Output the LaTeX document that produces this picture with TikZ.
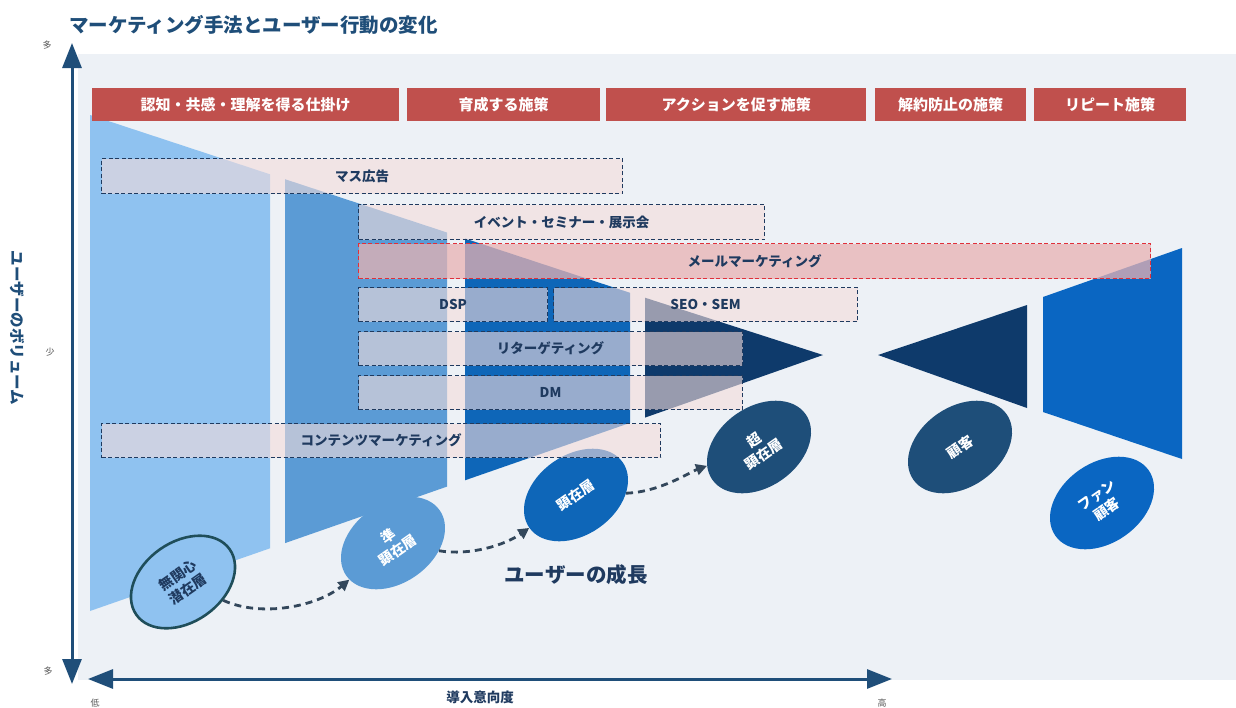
\documentclass[tikz,border=0pt]{standalone}
\usepackage{fontspec}
\setmainfont{Noto Sans CJK JP}
\usetikzlibrary{arrows.meta,shapes.geometric}
\definecolor{panel}{RGB}{237,241,246}
\definecolor{lb}{RGB}{143,194,240}
\definecolor{mb}{RGB}{91,155,213}
\definecolor{db}{RGB}{14,102,184}
\definecolor{nv}{RGB}{14,58,107}
\definecolor{rb}{RGB}{10,102,194}
\definecolor{en}{RGB}{30,78,121}
\definecolor{barred}{RGB}{192,80,77}
\definecolor{txt}{RGB}{31,58,95}
\definecolor{ttl}{RGB}{31,78,121}
\definecolor{boxpink}{RGB}{244,220,219}
\definecolor{mailpink}{RGB}{232,178,178}
\definecolor{mailred}{RGB}{224,48,58}
\definecolor{dline}{RGB}{51,71,91}
\definecolor{rim}{RGB}{31,78,90}
\begin{document}
\begin{tikzpicture}[x=1pt,y=-1pt,
  bar/.style={fill=barred, text=white, font=\bfseries\fontsize{15}{15}\selectfont, inner sep=0, anchor=north west, minimum height=33pt},
  box/.style={fill=boxpink, fill opacity=0.6, text opacity=1, draw=txt, line width=1.1pt, dash pattern=on 4pt off 2.5pt, text=txt, font=\bfseries\fontsize{13.5}{13.5}\selectfont, inner sep=0, anchor=north west, minimum height=35pt},
  ell/.style={ellipse, minimum width=114pt, minimum height=80pt, rotate=35, align=center, inner sep=0, text=white, font=\bfseries\fontsize{14}{17}\selectfont},
  axisline/.style={draw=ttl, line width=3pt, {Triangle[length=25pt,width=19pt]}-{Triangle[length=25pt,width=19pt]}},
  dasharr/.style={draw=dline, line width=2.8pt, dash pattern=on 7pt off 5pt, -{Triangle[length=11pt,width=11pt]}},
  small/.style={text=black!65, font=\fontsize{9}{9}\selectfont, inner sep=0}
]
\useasboundingbox (0,0) rectangle (1236,707);
\fill[white] (0,0) rectangle (1236,707);
\fill[panel] (78,54) rectangle (1236,680);

% funnel strips
\fill[lb] (90,115) -- (270,174.3) -- (270,548.3) -- (90,611) -- cycle;
\fill[mb] (285,179.2) -- (447,232.5) -- (447,486.6) -- (285,543.1) -- cycle;
\fill[db] (465,238.5) -- (630,292.8) -- (630,422.9) -- (465,480.3) -- cycle;
\fill[nv] (645,297.7) -- (823,355) -- (645,417.6) -- cycle;
% right shapes
\fill[nv] (878,355) -- (1027,305) -- (1027,408) -- cycle;
\fill[rb] (1043,297) -- (1182,248) -- (1182,459) -- (1043,412) -- cycle;

% ellipses
\node[ell, fill=lb, draw=rim, line width=2.6pt, text=txt] (e1) at (183,582) {無関心\\潜在層};
\node[ell, fill=mb] (e2) at (393,543) {準\\顕在層};
\node[ell, fill=db] (e3) at (576,495) {顕在層};
\node[ell, fill=en] (e4) at (759,447) {超\\顕在層};
\node[ell, fill=en] (e5) at (960,447) {顧客};
\node[ell, fill=rb] (e6) at (1102,503) {ファン\\顧客};

% dashed boxes
\node[box, minimum width=521pt] (mass) at (101,158) {マス広告};
\node[box, minimum width=406pt] (event) at (358,204) {イベント・セミナー・展示会};
\node[box, minimum width=792pt, fill=mailpink, fill opacity=0.75, draw=mailred] (mail) at (358,243) {メールマーケティング};
\node[box, minimum width=189pt, minimum height=34pt] (dsp) at (358,287) {DSP};
\node[box, minimum width=304pt, minimum height=34pt] (seo) at (553,287) {SEO・SEM};
\node[box, minimum width=384pt, minimum height=34pt] (ret) at (358,331) {リターゲティング};
\node[box, minimum width=384pt, minimum height=34pt] (dm) at (358,375) {DM};
\node[box, minimum width=559pt, minimum height=34pt] (cont) at (101,423) {コンテンツマーケティング};

% red header bars
\node[bar, minimum width=307pt] (b1) at (92,88) {認知・共感・理解を得る仕掛け};
\node[bar, minimum width=193pt] (b2) at (407,88) {育成する施策};
\node[bar, minimum width=260pt] (b3) at (606,88) {アクションを促す施策};
\node[bar, minimum width=151pt] (b4) at (875,88) {解約防止の施策};
\node[bar, minimum width=152pt] (b5) at (1034,88) {リピート施策};

% growth arrows
\draw[dasharr] (e1) .. controls (262,618) and (318,606) .. (e2);
\draw[dasharr] (e2) .. controls (470,556) and (505,545) .. (e3);
\draw[dasharr] (e3) .. controls (660,492) and (690,472) .. (e4);

% axes
\coordinate (vt) at (72,43);
\coordinate (vb) at (72,684);
\coordinate (hl) at (88,679);
\coordinate (hr) at (892,679);
\draw[axisline] (vt) -- (vb);
\draw[axisline] (hl) -- (hr);

% texts
\node[text=ttl, font=\bfseries\fontsize{19.5}{20}\selectfont, anchor=west, inner sep=0] (title) at (69,25) {マーケティング手法とユーザー行動の変化};
\node[text=ttl, font=\bfseries\fontsize{15.5}{16}\selectfont, rotate=-90, inner sep=0] (vlab) at (17,328) {ユーザーのボリューム};
\node[text=txt, font=\bfseries\fontsize{13.5}{14}\selectfont, inner sep=0] (hlab) at (480,697) {導入意向度};
\node[text=txt, font=\bfseries\fontsize{20.5}{21}\selectfont, inner sep=0] (grow) at (576,575) {ユーザーの成長};
\node[small] (m1) at (47,45) {多};
\node[small] (m2) at (50,352) {少};
\node[small] (m3) at (48,671) {多};
\node[small] (lo) at (95,703) {低};
\node[small] (hi) at (882,703) {高};
\end{tikzpicture}
\end{document}
